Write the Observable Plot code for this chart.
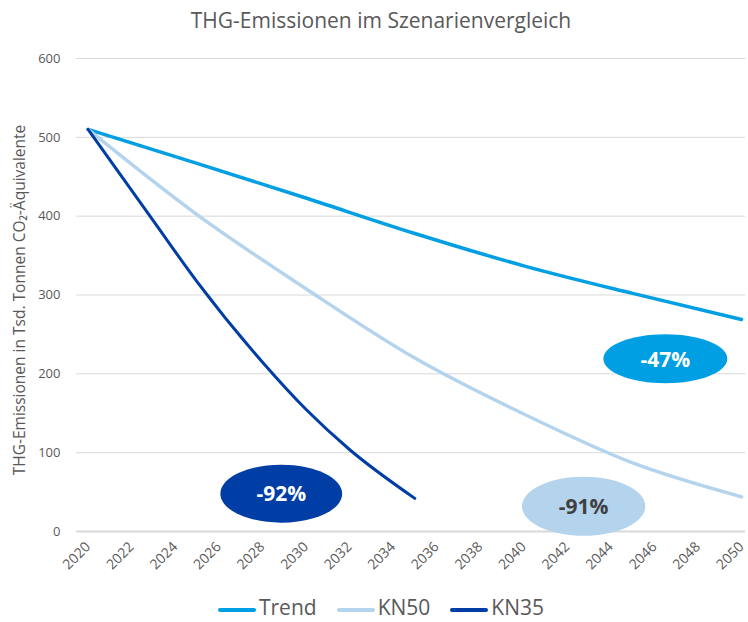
<!DOCTYPE html>
<html>
<head>
<meta charset="utf-8">
<script src="https://cdn.jsdelivr.net/npm/d3@7"></script>
<script src="https://cdn.jsdelivr.net/npm/@observablehq/plot@0.6"></script>
<style>
  html, body { margin: 0; padding: 0; background: #fff; overflow: hidden; }
  body { width: 748px; height: 622px; font-family: "Open Sans", sans-serif; color: #595959; position: relative; }
  #title { height: 40px; line-height: 40px; font-size: 21px; text-align: center; padding-left: 14px; box-sizing: border-box; }
  #chart { height: 550px; }
  #legend { position: absolute; left: 0; top: 596px; width: 748px; height: 22px; display: flex; justify-content: center; align-items: center; font-size: 21px; line-height: 22px; padding-left: 14px; box-sizing: border-box; }
  .item { display: flex; align-items: center; margin: 0 10px; }
  .sw { width: 38px; height: 4px; border-radius: 2px; margin-right: 3px; margin-top: 6px; }
  #chart svg g[aria-label="x-axis tick label"] text { font-size: 14px; }
</style>
</head>
<body>
<div id="title"></div>
<div id="chart"></div>
<div id="legend"></div>
<script>
const titleText = "THG-Emissionen im Szenarienvergleich";
const yLabel = "THG-Emissionen in Tsd. Tonnen CO₂-Äquivalente";

const years = [2020, 2025, 2030, 2035, 2040, 2045, 2050];
const trend = [510, 467, 423, 378, 337, 302, 269];
const kn50 = [510, 402, 308, 220, 149, 87, 44];
const kn35Years = [2020, 2023, 2025, 2028, 2030, 2032, 2035];
const kn35 = [510, 394, 317, 215, 155, 104, 42];

const seriesNames = ["Trend", "KN50", "KN35"];
const seriesColors = ["#009FE3", "#B4D4EE", "#003DA5"];

const xTicks = d3.range(2020, 2051, 2);
const yTicks = [0, 100, 200, 300, 400, 500, 600];

const badgeLabels = ["-92%", "-91%", "-47%"];
const badgeYear = [2028.87, 2042.75, 2046.5];
const badgeValue = [48, 32, 219];
const badgeFill = ["#003DA5", "#B4D4EE", "#009FE3"];
const badgeText = ["#ffffff", "#404040", "#ffffff"];

const trendData = years.map((y, i) => ({year: y, value: trend[i]}));
const kn50Data = years.map((y, i) => ({year: y, value: kn50[i]}));
const kn35Data = kn35Years.map((y, i) => ({year: y, value: kn35[i]}));

function ellipseSymbol(aspect) {
  return {
    draw(ctx, size) {
      const ry = Math.sqrt(size / Math.PI), rx = ry * aspect, k = 0.5522848;
      ctx.moveTo(rx, 0);
      ctx.bezierCurveTo(rx, k * ry, k * rx, ry, 0, ry);
      ctx.bezierCurveTo(-k * rx, ry, -rx, k * ry, -rx, 0);
      ctx.bezierCurveTo(-rx, -k * ry, -k * rx, -ry, 0, -ry);
      ctx.bezierCurveTo(k * rx, -ry, rx, -k * ry, rx, 0);
      ctx.closePath();
    }
  };
}
const badgeR = [29, 29.5, 24.5];
const badgeAspect = [2.1, 2.09, 2.53];

const badgeMarks = badgeLabels.flatMap((lab, i) => {
  const d = [{year: badgeYear[i], value: badgeValue[i], label: lab}];
  return [
    Plot.dot(d, {x: "year", y: "value", r: badgeR[i], symbol: ellipseSymbol(badgeAspect[i]), fill: badgeFill[i], stroke: "none"}),
    Plot.text(d, {x: "year", y: "value", text: "label", fill: badgeText[i], fontSize: 21, fontWeight: "bold", dy: 1})
  ];
});

document.getElementById("title").textContent = titleText;

const chart = Plot.plot({
  width: 748,
  height: 550,
  marginTop: 18,
  marginBottom: 59,
  marginLeft: 76,
  marginRight: 3,
  style: {fontFamily: "Open Sans, sans-serif", fontSize: "13px", color: "#595959", background: "#fff"},
  x: {type: "linear", domain: [2019.47, 2050.18], ticks: xTicks, tickFormat: d => String(d), tickRotate: -45, tickSize: 0, tickPadding: 13, label: null},
  y: {domain: [0, 600], ticks: yTicks, tickSize: 0, tickPadding: 16, label: null},
  marks: [
    Plot.gridY(yTicks, {stroke: "#d9d9d9", strokeOpacity: 1, strokeWidth: 1}),
    Plot.ruleY([0], {stroke: "#d9d9d9", strokeWidth: 2}),
    Plot.line(trendData, {x: "year", y: "value", stroke: seriesColors[0], strokeWidth: 3.5, curve: "monotone-x"}),
    Plot.line(kn50Data, {x: "year", y: "value", stroke: seriesColors[1], strokeWidth: 3.5, curve: "monotone-x"}),
    Plot.line(kn35Data, {x: "year", y: "value", stroke: seriesColors[2], strokeWidth: 3, curve: "monotone-x"}),
    ...badgeMarks,
    Plot.text([yLabel], {frameAnchor: "left", textAnchor: "middle", text: d => d, rotate: -90, dx: -56, dy: 5, fontSize: 15.5, fill: "#595959"})
  ]
});
document.getElementById("chart").appendChild(chart);

const legend = document.getElementById("legend");
seriesNames.forEach((name, i) => {
  const item = document.createElement("div");
  item.className = "item";
  const sw = document.createElement("span");
  sw.className = "sw";
  sw.style.background = seriesColors[i];
  const t = document.createElement("span");
  t.textContent = name;
  item.appendChild(sw);
  item.appendChild(t);
  legend.appendChild(item);
});
</script>
</body>
</html>
